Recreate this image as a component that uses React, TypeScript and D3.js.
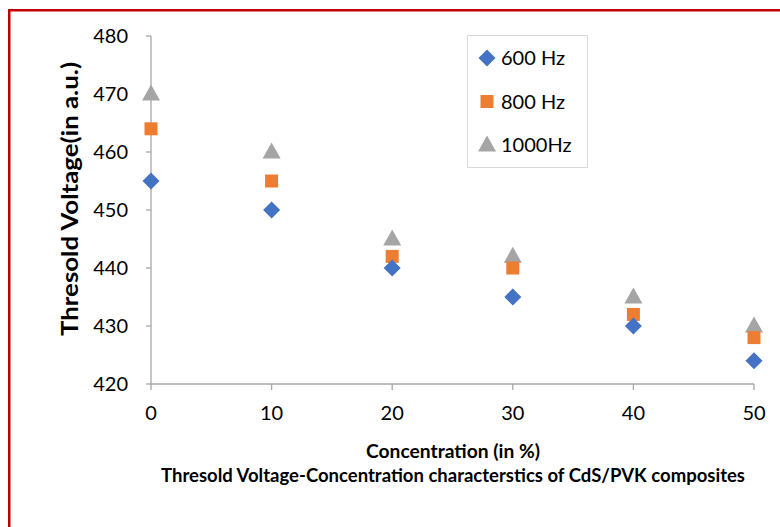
import React from "react";
import * as d3 from "d3";

const concentrations = [0, 10, 20, 30, 40, 50];
const v600 = [455, 450, 440, 435, 430, 424];
const v800 = [464, 455, 442, 440, 432, 428];
const v1000 = [470, 460, 445, 442, 435, 430];
const yTicks = [420, 430, 440, 450, 460, 470, 480];
const xTicks = [0, 10, 20, 30, 40, 50];
const seriesNames = ["600 Hz", "800 Hz", "1000Hz"];
const seriesColors = ["#4472c4", "#ed7d31", "#a5a5a5"];

const FONT = "Lato, 'Open Sans', sans-serif";

function Marker({ kind, x, y, color }: { kind: number; x: number; y: number; color: string }) {
  if (kind === 0) {
    const r = 8.5;
    return <path d={`M${x},${y - r}L${x + r},${y}L${x},${y + r}L${x - r},${y}Z`} fill={color} />;
  }
  if (kind === 1) {
    const s = 13;
    return <rect x={x - s / 2} y={y - s / 2} width={s} height={s} fill={color} />;
  }
  const w = 18, h = 16;
  return <path d={`M${x},${y - h * 0.6}L${x + w / 2},${y + h * 0.4}L${x - w / 2},${y + h * 0.4}Z`} fill={color} />;
}

export default function App() {
  const x = d3.scaleLinear().domain([0, 50]).range([151, 754]);
  const y = d3.scaleLinear().domain([420, 480]).range([384, 36]);
  const series = [v600, v800, v1000];
  const axisColor = "#a6a6a6";

  return (
    <svg width={780} height={527} style={{ position: "absolute", left: 0, top: 0 }} fontFamily={FONT}>
      <rect x={0} y={0} width={780} height={527} fill="#fff" />
      <rect x={9.25} y={10.25} width={900} height={700} fill="none" stroke="#c00000" strokeWidth={2.5} />
      {/* y axis */}
      <line x1={151} x2={151} y1={y(480)} y2={y(420)} stroke={axisColor} strokeWidth={1.3} />
      {yTicks.map((t) => (
        <g key={"y" + t}>
          <line x1={146} x2={151} y1={y(t)} y2={y(t)} stroke={axisColor} strokeWidth={1.3} />
          <text x={128} y={y(t)} dy="0.35em" textAnchor="end" fontSize={20} fill="#000">
            {t}
          </text>
        </g>
      ))}
      {/* x axis */}
      <line x1={x(0)} x2={x(50)} y1={384} y2={384} stroke={axisColor} strokeWidth={1.3} />
      {xTicks.map((t) => (
        <g key={"x" + t}>
          <line x1={x(t)} x2={x(t)} y1={384} y2={390} stroke={axisColor} strokeWidth={1.3} />
          <text x={x(t)} y={413} dy="0.35em" textAnchor="middle" fontSize={20} fill="#000">
            {t}
          </text>
        </g>
      ))}
      {/* points */}
      {[2, 1, 0].map((si) =>
        series[si].map((v, i) => (
          <Marker key={si + "-" + i} kind={si} x={x(concentrations[i])} y={y(v)} color={seriesColors[si]} />
        ))
      )}
      {/* legend */}
      <rect x={467.5} y={35.5} width={120} height={132} fill="#fff" stroke="#d9d9d9" strokeWidth={1} />
      {seriesNames.map((n, i) => (
        <g key={n}>
          <Marker kind={i} x={487} y={58 + i * 43.5} color={seriesColors[i]} />
          <text x={501} y={58 + i * 43.5} dy="0.35em" fontSize={20} fill="#000">
            {n}
          </text>
        </g>
      ))}
      {/* titles */}
      <text
        transform={`translate(70,199) rotate(-90)`}
        textAnchor="middle"
        dy="0.35em"
        fontSize={22}
        fontWeight="bold"
        fill="#000"
        textLength={274}
        lengthAdjust="spacingAndGlyphs"
      >
        Thresold Voltage(in a.u.)
      </text>
      <text
        x={453}
        y={452}
        dy="0.35em"
        textAnchor="middle"
        fontSize={18}
        fontWeight="bold"
        fill="#000"
        textLength={174}
        lengthAdjust="spacingAndGlyphs"
      >
        Concentration (in %)
      </text>
      <text
        x={453}
        y={476}
        dy="0.35em"
        textAnchor="middle"
        fontSize={18}
        fontWeight="bold"
        fill="#000"
        textLength={584}
        lengthAdjust="spacingAndGlyphs"
      >
        Thresold Voltage-Concentration characterstics of CdS/PVK composites
      </text>
    </svg>
  );
}
